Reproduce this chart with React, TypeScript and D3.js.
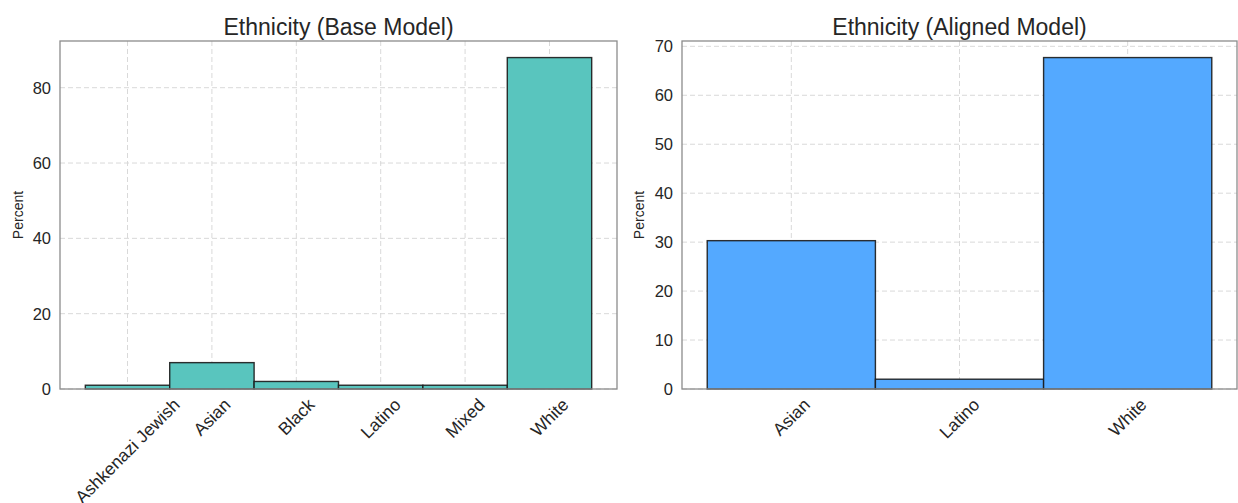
import React from "react";
import * as d3 from "d3";

const baseCategories = ["Ashkenazi Jewish", "Asian", "Black", "Latino", "Mixed", "White"];
const baseValues = [1.0, 7.0, 2.0, 1.0, 1.0, 88.0];
const baseTicks = [0, 20, 40, 60, 80];

const alignedCategories = ["Asian", "Latino", "White"];
const alignedValues = [30.3, 2.0, 67.7];
const alignedTicks = [0, 10, 20, 30, 40, 50, 60, 70];

const FONT = "'Liberation Sans', Arial, Helvetica, sans-serif";

let ctx: CanvasRenderingContext2D | null = null;
function measure(text: string, size: number) {
  if (!ctx) {
    const c = document.createElement("canvas");
    ctx = c.getContext("2d");
  }
  if (!ctx) return text.length * size * 0.55;
  ctx.font = `${size}px ${FONT}`;
  return ctx.measureText(text).width;
}

type PanelProps = {
  x0: number;
  x1: number;
  y0: number;
  y1: number;
  title: string;
  cats: string[];
  vals: number[];
  ticks: number[];
  color: string;
  ylabelX: number;
};

function Panel({ x0, x1, y0, y1, title, cats, vals, ticks, color, ylabelX }: PanelProps) {
  const n = cats.length;
  const maxV = d3.max(vals) as number;
  const x = d3.scaleLinear().domain([-0.5 - n * 0.05, n - 0.5 + n * 0.05]).range([x0, x1]);
  const y = d3.scaleLinear().domain([0, maxV * 1.05]).range([y1, y0]);
  const yTickSize = 16.5;
  const xTickSize = 17.5;
  const labelTop = y1 + 8;
  const capH = xTickSize * 0.75;
  return (
    <g>
      {/* grid */}
      {ticks.map((t) => (
        <line key={"gy" + t} x1={x0} x2={x1} y1={y(t)} y2={y(t)} stroke="#d9d9d9" strokeWidth={1} strokeDasharray="5,3" />
      ))}
      {cats.map((c, i) => (
        <line key={"gx" + c} x1={x(i)} x2={x(i)} y1={y0} y2={y1} stroke="#d9d9d9" strokeWidth={1} strokeDasharray="5,3" />
      ))}
      {/* bars */}
      {vals.map((v, i) => (
        <rect
          key={"b" + i}
          x={x(i - 0.5)}
          y={y(v)}
          width={x(i + 0.5) - x(i - 0.5)}
          height={y1 - y(v)}
          fill={color}
          stroke="#1a1a1a"
          strokeOpacity={0.9}
          strokeWidth={1.4}
        />
      ))}
      {/* frame */}
      <rect x={x0} y={y0} width={x1 - x0} height={y1 - y0} fill="none" stroke="#8c8c8c" strokeWidth={1.3} />
      {/* y ticks */}
      {ticks.map((t) => (
        <text key={"yt" + t} x={x0 - 9} y={y(t)} textAnchor="end" dominantBaseline="central" fontSize={yTickSize} fill="#262626" fontFamily={FONT}>
          {t}
        </text>
      ))}
      {/* x ticks */}
      {cats.map((c, i) => {
        const w = measure(c, xTickSize);
        const H = (w + capH) * Math.SQRT1_2;
        const cx = x(i);
        const cy = labelTop + H / 2;
        return (
          <text
            key={"xt" + c}
            x={cx}
            y={cy}
            textAnchor="middle"
            dominantBaseline="central"
            fontSize={xTickSize}
            fill="#262626"
            fontFamily={FONT}
            transform={`rotate(-45 ${cx} ${cy})`}
          >
            {c}
          </text>
        );
      })}
      {/* y label */}
      <text
        x={ylabelX}
        y={(y0 + y1) / 2}
        textAnchor="middle"
        dominantBaseline="central"
        fontSize={14}
        fill="#262626"
        fontFamily={FONT}
        transform={`rotate(-90 ${ylabelX} ${(y0 + y1) / 2})`}
      >
        Percent
      </text>
      {/* title */}
      <text x={(x0 + x1) / 2} y={y0 - 6} textAnchor="middle" fontSize={23} fill="#262626" fontFamily={FONT}>
        {title}
      </text>
    </g>
  );
}

export default function App() {
  return (
    <svg
      width={1238}
      height={503}
      style={{ position: "absolute", left: 0, top: 0, background: "#fff" }}
    >
      <rect x={0} y={0} width={1238} height={503} fill="#fff" />
      <Panel
        x0={60}
        x1={617}
        y0={41}
        y1={389}
        title="Ethnicity (Base Model)"
        cats={baseCategories}
        vals={baseValues}
        ticks={baseTicks}
        color="#59C5BE"
        ylabelX={18}
      />
      <Panel
        x0={682}
        x1={1237}
        y0={41}
        y1={389}
        title="Ethnicity (Aligned Model)"
        cats={alignedCategories}
        vals={alignedValues}
        ticks={alignedTicks}
        color="#54A9FF"
        ylabelX={639}
      />
    </svg>
  );
}
